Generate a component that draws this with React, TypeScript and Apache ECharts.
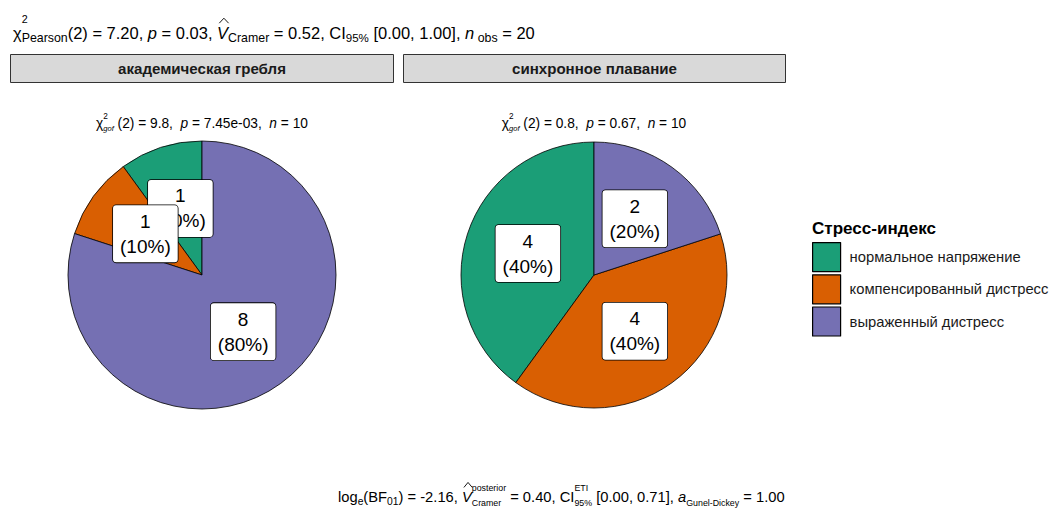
import React, { useEffect, useRef } from "react";
import * as echarts from "echarts";

// ---- data ----
const CATEGORIES = ["нормальное напряжение", "компенсированный дистресс", "выраженный дистресс"];
const FACETS = ["академическая гребля", "синхронное плавание"];
const ROWING = [1, 1, 8];
const SWIMMING = [4, 4, 2];
const COLORS = ["#1B9E77", "#D95F02", "#7570B3"];
const LEGEND_TITLE = "Стресс-индекс";

type Tok = { t?: string; r?: number; dy?: number; it?: boolean; hat?: boolean; stack?: Tok[] };

const TITLE_TOKENS: Tok[] = [
  { t: "χ" },
  { stack: [{ t: "2", r: 0.65, dy: -1.0 }, { t: "Pearson", r: 0.75, dy: 0.18 }] },
  { t: "(2) = 7.20, " },
  { t: "p", it: true },
  { t: " = 0.03, " },
  { t: "V", it: true, hat: true },
  { t: "Cramer", r: 0.75, dy: 0.18 },
  { t: " = 0.52, CI" },
  { t: "95%", r: 0.7, dy: 0.18 },
  { t: " [0.00, 1.00], " },
  { t: "n", it: true },
  { t: " obs", r: 0.75, dy: 0.18 },
  { t: " = 20" },
];

const SUB_LEFT: Tok[] = [
  { t: "χ" },
  { stack: [{ t: "2", r: 0.6, dy: -0.62 }, { t: "gof", r: 0.55, dy: 0.25, it: true }] },
  { t: " (2) = 9.8,  " },
  { t: "p", it: true },
  { t: " = 7.45e-03,  " },
  { t: "n", it: true },
  { t: " = 10" },
];

const SUB_RIGHT: Tok[] = [
  { t: "χ" },
  { stack: [{ t: "2", r: 0.6, dy: -0.62 }, { t: "gof", r: 0.55, dy: 0.25, it: true }] },
  { t: " (2) = 0.8,  " },
  { t: "p", it: true },
  { t: " = 0.67,  " },
  { t: "n", it: true },
  { t: " = 10" },
];

const CAPTION_TOKENS: Tok[] = [
  { t: "log" },
  { t: "e", r: 0.7, dy: 0.22 },
  { t: "(BF" },
  { t: "01", r: 0.7, dy: 0.22 },
  { t: ") = -2.16, " },
  { t: "V", it: true, hat: true },
  { stack: [{ t: "posterior", r: 0.6, dy: -0.72 }, { t: "Cramer", r: 0.6, dy: 0.3 }] },
  { t: " = 0.40, CI" },
  { stack: [{ t: "ETI", r: 0.6, dy: -0.72 }, { t: "95%", r: 0.6, dy: 0.3 }] },
  { t: " [0.00, 0.71], " },
  { t: "a", it: true },
  { t: "Gunel-Dickey", r: 0.6, dy: 0.26 },
  { t: " = 1.00" },
];

const FONT = "Liberation Sans";
let ctx: CanvasRenderingContext2D | null = null;
function measure(text: string, px: number, italic?: boolean, bold?: boolean) {
  if (!ctx) ctx = document.createElement("canvas").getContext("2d");
  ctx!.font = `${italic ? "italic " : ""}${bold ? "bold " : ""}${px}px "${FONT}"`;
  return ctx!.measureText(text).width;
}

function tokW(tok: Tok, s: number): number {
  if (tok.stack) return Math.max(...tok.stack.map((k) => tokW(k, s)));
  return measure(tok.t || "", s * (tok.r ?? 1), tok.it);
}
function lineW(tokens: Tok[], s: number) {
  return tokens.reduce((a, t) => a + tokW(t, s), 0);
}
function fitSize(tokens: Tok[], target: number) {
  return (100 * target) / lineW(tokens, 100);
}

function renderLine(tokens: Tok[], s: number, x0: number, baseline: number, color: string, out: any[]) {
  let x = x0;
  for (const tok of tokens) {
    const parts = tok.stack ?? [tok];
    let adv = 0;
    for (const p of parts) {
      const fs = s * (p.r ?? 1);
      const txt = p.t || "";
      const lead = (txt.match(/^ */) || [""])[0];
      const core = txt.trim();
      const bl = baseline + (p.dy ?? 0) * s;
      const lx = x + measure(lead, fs, p.it);
      if (core) {
        out.push({
          type: "text",
          x: lx,
          y: bl - 0.3465 * fs,
          silent: true,
          style: {
            text: core,
            fontSize: fs,
            fontFamily: FONT,
            fontStyle: p.it ? "italic" : "normal",
            fill: color,
            textAlign: "left",
            textVerticalAlign: "middle",
          },
        });
      }
      if (p.hat) {
        const w = measure(core, fs, true);
        const top = bl - 0.716 * fs;
        out.push({
          type: "polyline",
          silent: true,
          shape: { points: [[lx + 0.2 * w, top - 4], [lx + 0.62 * w, top - 9], [lx + 1.05 * w, top - 4]] },
          style: { stroke: color, lineWidth: 0.9, fill: null },
        });
      }
      adv = Math.max(adv, measure(txt, fs, p.it));
    }
    x += adv;
  }
}

function pieSeries(values: number[], cx: number, cy: number, r: number) {
  return {
    type: "pie",
    center: [cx, cy],
    radius: r,
    startAngle: 90,
    clockwise: false,
    silent: true,
    avoidLabelOverlap: false,
    minShowLabelAngle: 0,
    labelLayout: { hideOverlap: false },
    emphasis: { disabled: true },
    data: CATEGORIES.map((n, i) => ({ name: n, value: values[i], itemStyle: { color: COLORS[i] } })),
    itemStyle: { borderColor: "#000", borderWidth: 0.8 },
    label: {
      show: true,
      position: "inside",
      formatter: (p: any) => `${p.value}\n(${Math.round(p.percent)}%)`,
      fontSize: 19,
      lineHeight: 25,
      fontFamily: FONT,
      color: "#000",
      backgroundColor: "#fff",
      borderColor: "#000",
      borderWidth: 0.8,
      borderRadius: 3,
      padding: [4, 7, 3, 7],
      align: "center",
    },
    labelLine: { show: false },
  };
}

export default function App() {
  const ref = useRef<HTMLDivElement>(null);
  useEffect(() => {
    const chart = echarts.init(ref.current!, undefined, { renderer: "svg" });
    const g: any[] = [];

    // title
    const ts = fitSize(TITLE_TOKENS, 522);
    renderLine(TITLE_TOKENS, ts, 13, 39, "#000", g);

    // strips
    const stripSize = (100 * 168) / measure(FACETS[0], 100, false, true);
    const strips = [
      [10, 393],
      [403, 785],
    ];
    strips.forEach(([a, b], i) => {
      g.push({
        type: "rect",
        silent: true,
        shape: { x: a + 0.5, y: 54.5, width: b - a, height: 28 },
        style: { fill: "#D9D9D9", stroke: "#333", lineWidth: 1 },
      });
      g.push({
        type: "text",
        silent: true,
        x: (a + b) / 2 + 0.5,
        y: 68.5,
        style: {
          text: FACETS[i],
          fontSize: stripSize,
          fontWeight: "bold",
          fontFamily: FONT,
          fill: "#1A1A1A",
          textAlign: "center",
          textVerticalAlign: "middle",
        },
      });
    });

    // subtitles
    const ss = fitSize(SUB_LEFT, 212);
    const wl = lineW(SUB_LEFT, ss);
    const wr = lineW(SUB_RIGHT, ss);
    renderLine(SUB_LEFT, ss, 202 - wl / 2, 128, "#000", g);
    renderLine(SUB_RIGHT, ss, 594 - wr / 2, 128, "#000", g);

    // caption
    const cs = fitSize(CAPTION_TOKENS, 447);
    renderLine(CAPTION_TOKENS, cs, 338, 502, "#000", g);

    // legend title
    const lts = (100 * 124) / measure(LEGEND_TITLE, 100, false, true);
    g.push({
      type: "text",
      silent: true,
      x: 812,
      y: 228,
      style: {
        text: LEGEND_TITLE,
        fontSize: lts,
        fontWeight: "bold",
        fontFamily: FONT,
        fill: "#000",
        textAlign: "left",
        textVerticalAlign: "middle",
      },
    });
    const lfs = (100 * 199) / measure(CATEGORIES[1], 100);

    chart.setOption({
      animation: false,
      backgroundColor: "#fff",
      legend: {
        orient: "vertical",
        left: 812,
        top: 242,
        padding: 0,
        itemWidth: 28,
        itemHeight: 29,
        itemGap: 2,
        icon: "rect",
        selectedMode: false,
        data: CATEGORIES,
        itemStyle: { borderColor: "#000", borderWidth: 1.2 },
        textStyle: { fontSize: lfs, fontFamily: FONT, color: "#1A1A1A", padding: [0, 0, 0, 4] },
      },
      series: [pieSeries(ROWING, 202, 275, 134), pieSeries(SWIMMING, 594, 275, 133)],
      graphic: { elements: g },
    });
    return () => chart.dispose();
  }, []);
  return <div ref={ref} style={{ position: "fixed", left: 0, top: 0, width: 1052, height: 511 }} />;
}
